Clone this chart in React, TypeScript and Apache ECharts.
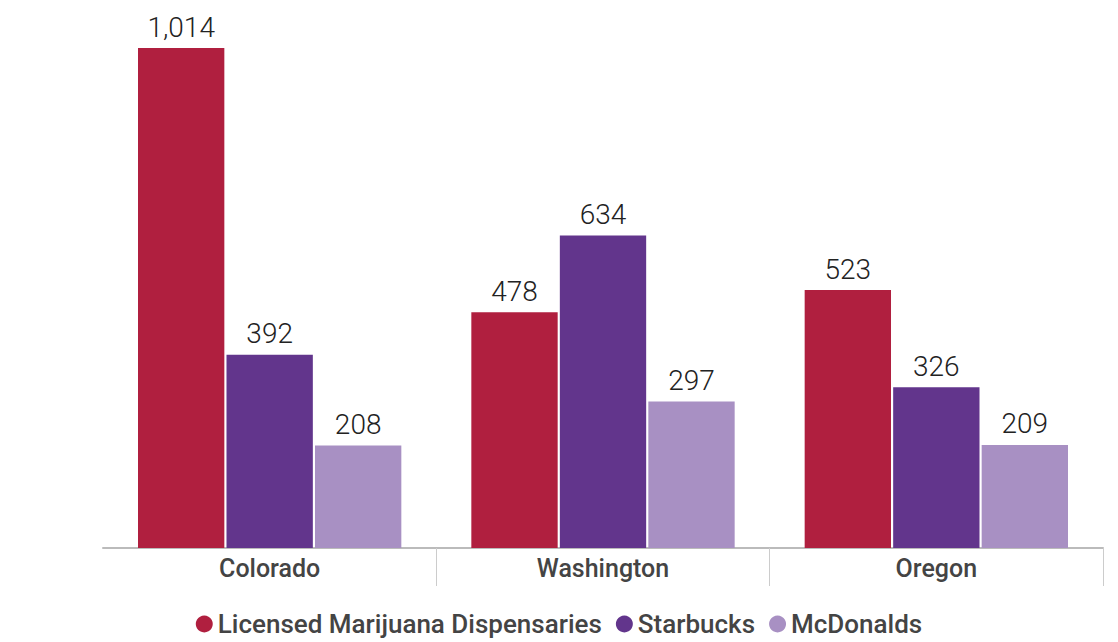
import React, { useEffect, useRef } from "react";
import * as echarts from "echarts";

const categories = ["Colorado", "Washington", "Oregon"];
const dispensaries = [1014, 478, 523];
const starbucks = [392, 634, 326];
const mcdonalds = [208, 297, 209];
const seriesNames = ["Licensed Marijuana Dispensaries", "Starbucks", "McDonalds"];
const colors = ["#B01F3F", "#62358C", "#A890C3"];

export default function App() {
  const ref = useRef<HTMLDivElement>(null);
  useEffect(() => {
    if (!ref.current) return;
    const chart = echarts.init(ref.current, undefined, { renderer: "svg" });
    const label = {
      show: true,
      position: "top",
      distance: 7,
      color: "#222",
      fontSize: 28,
      fontWeight: 300,
      fontFamily: "Roboto, sans-serif",
      formatter: (p: any) => Number(p.value).toLocaleString("en-US"),
    };
    const data = [dispensaries, starbucks, mcdonalds];
    chart.setOption({
      animation: false,
      backgroundColor: "#fff",
      color: colors,
      grid: { left: 103, right: 15, top: 48, bottom: 94 },
      legend: {
        bottom: 0,
        left: "center",
        icon: "circle",
        itemWidth: 17,
        itemHeight: 17,
        itemGap: 14,
        textStyle: { fontFamily: "Roboto", fontSize: 26, fontWeight: 500, color: "#444" },
        data: seriesNames,
      },
      xAxis: {
        type: "category",
        data: categories,
        axisLine: { lineStyle: { color: "#bbb", width: 2 } },
        axisTick: {
          show: true,
          length: 38,
          lineStyle: { color: "#ccc", width: 1 },
          interval: (i: number) => i === 1 || i === 2,
        },
        axisLabel: {
          margin: 8,
          fontFamily: "Roboto",
          fontSize: 25,
          fontWeight: 500,
          color: "#444",
        },
      },
      yAxis: { type: "value", min: 0, max: 1014, show: false, splitLine: { show: false } },
      series: seriesNames.map((name, i) => ({
        name,
        type: "bar",
        data: data[i],
        barGap: "2.5%",
        barCategoryGap: "21%",
        label,
      })),
    });
    return () => chart.dispose();
  }, []);
  return <div ref={ref} style={{ position: "absolute", left: 0, top: 0, width: 1118, height: 642 }} />;
}
